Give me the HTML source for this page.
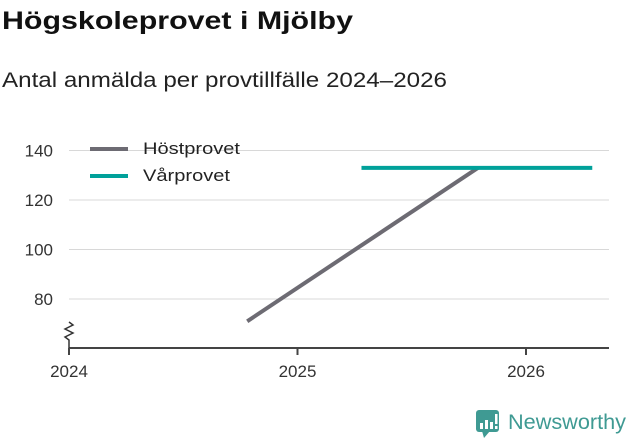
<!DOCTYPE html>
<html><head><meta charset="utf-8">
<style>
body{margin:0;background:#fff;font-family:"Liberation Sans",sans-serif;}
svg{display:block}
</style></head>
<body>
<svg width="631" height="439" viewBox="0 0 631 439">
<text x="2" y="29" font-size="25" font-weight="bold" fill="#111" textLength="351" lengthAdjust="spacingAndGlyphs">Högskoleprovet i Mjölby</text>
<text x="2" y="87" font-size="21" fill="#222" textLength="445" lengthAdjust="spacingAndGlyphs">Antal anmälda per provtillfälle 2024–2026</text>
<g id="grid"></g>
<g id="xaxis"></g>
<g id="series"></g>
<g>
<line x1="90" y1="149" x2="128" y2="149" stroke="#6d6b73" stroke-width="4"/>
<text x="143" y="154" font-size="17" fill="#222" textLength="97" lengthAdjust="spacingAndGlyphs">Höstprovet</text>
<line x1="90" y1="176" x2="128" y2="176" stroke="#00a19a" stroke-width="4"/>
<text x="143" y="181" font-size="17" fill="#222" textLength="87" lengthAdjust="spacingAndGlyphs">Vårprovet</text>
</g>
<g>
<rect x="476" y="410" width="23" height="22" rx="3" fill="#3f9a93"/>
<polygon points="482,431 490,431 484,438" fill="#3f9a93"/>
<rect x="480" y="423" width="3" height="6" fill="#fff"/><rect x="485" y="420" width="3" height="9" fill="#fff"/><rect x="490" y="422" width="3" height="7" fill="#fff"/><rect x="495" y="414" width="2.5" height="10" fill="#fff"/><rect x="495" y="426" width="2.5" height="3" fill="#fff"/>
<text x="508" y="429" font-size="21" fill="#3f9a93" textLength="118" lengthAdjust="spacingAndGlyphs">Newsworthy</text>
</g>
</svg>
<script>
const yTicks=[80,100,120,140];
const xTicks=[2024,2025,2026];
const hostX=[2024.78,2025.79];
const hostY=[71,133];
const varX=[2025.28,2026.29];
const varY=[133,133];
const NS="http://www.w3.org/2000/svg";
const X=v=>69+(v-2024)*228.5;
const Y=v=>299-(v-80)*(49.5/20);
function mk(t,a,p){const e=document.createElementNS(NS,t);for(const k in a)e.setAttribute(k,a[k]);p.appendChild(e);return e;}
const grid=document.getElementById('grid');
yTicks.forEach(v=>{
 const l=mk('line',{x1:69,x2:609,y1:Y(v),y2:Y(v),stroke:'#d8d8d8','stroke-width':1},grid);
 
 
 const t=mk('text',{x:53,y:Y(v)+6,'font-size':17,fill:'#333','text-anchor':'end'},grid);
 t.textContent=v;
 
 
});
const xa=document.getElementById('xaxis');
const ax=mk('line',{x1:69,x2:609,y1:348,y2:348,stroke:'#444','stroke-width':2},xa);


const zz=mk('polyline',{points:'69,322 73,325 65,329 73,333 65,337 69,340 69,348',fill:'none',stroke:'#333','stroke-width':1.5},xa);


xTicks.forEach(v=>{
 const l=mk('line',{x1:X(v),x2:X(v),y1:348,y2:355,stroke:'#444','stroke-width':2},xa);
 
 
 const t=mk('text',{x:X(v),y:377,'font-size':17,fill:'#333','text-anchor':'middle'},xa);
 t.textContent=v;
 
 
});
const s=document.getElementById('series');
const p1=mk('polyline',{points:hostX.map((x,i)=>X(x)+','+Y(hostY[i])).join(' '),fill:'none',stroke:'#6d6b73','stroke-width':4},s);


const p2=mk('polyline',{points:varX.map((x,i)=>X(x)+','+Y(varY[i])).join(' '),fill:'none',stroke:'#00a19a','stroke-width':4},s);


</script>
</body></html>
